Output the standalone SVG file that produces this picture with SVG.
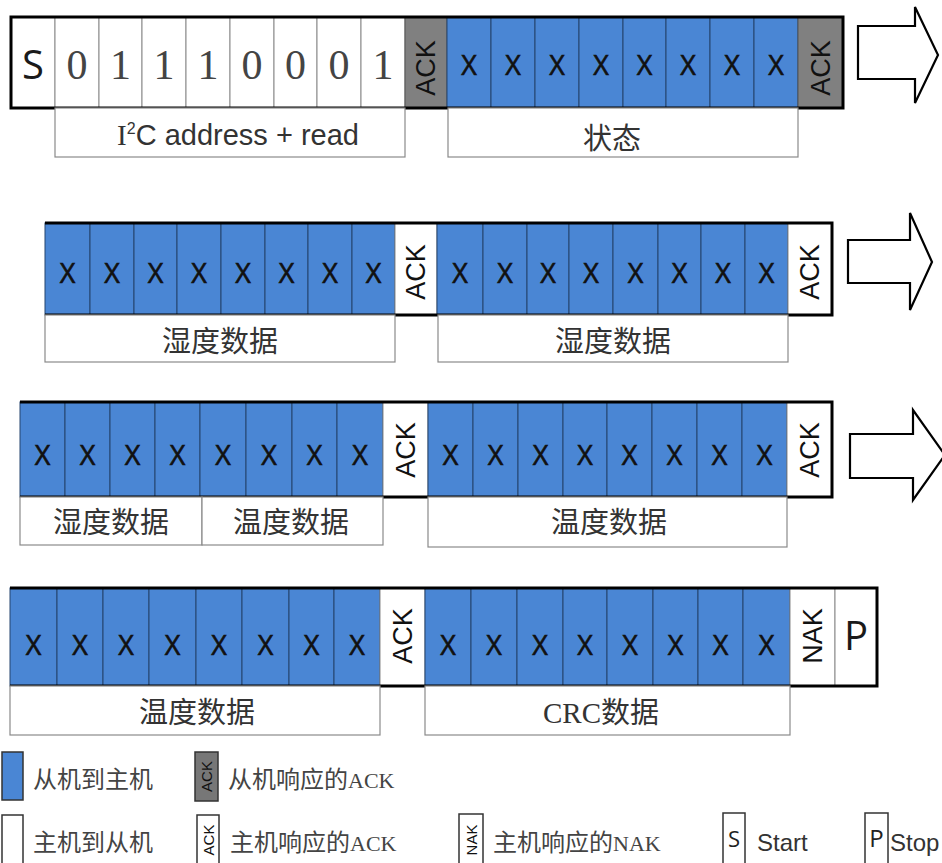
<svg xmlns="http://www.w3.org/2000/svg" width="942" height="863" viewBox="0 0 942 863">
<style>
.bg{fill:#ffffff}
.w{fill:#ffffff;stroke:#8a8a8a;stroke-width:1}
.b{fill:#4a86d4;stroke:#24456f;stroke-width:1}
.g{fill:#808080;stroke:#555;stroke-width:1}
.frame{fill:none;stroke:#000;stroke-width:3}
.lbl{fill:#fff;stroke:#8a8a8a;stroke-width:1.2}
.x{font-family:"Open Sans","DejaVu Sans",sans-serif;font-size:27px;fill:#111;stroke:#111;stroke-width:0.6;text-anchor:middle}
.bit{font-family:"Liberation Serif",serif;font-size:42px;fill:#444;text-anchor:middle}
.big{font-family:"Open Sans","DejaVu Sans",sans-serif;font-size:40px;fill:#1a1a1a;text-anchor:middle}
.ack{font-family:"Liberation Sans",Arial,sans-serif;font-size:27px;fill:#111;text-anchor:middle;dominant-baseline:central}
.cn{font-family:"Noto Sans CJK SC",sans-serif;font-size:29px;fill:#333;text-anchor:middle}
.leg{font-family:"Liberation Serif","Noto Sans CJK SC",serif;font-size:22px;fill:#444}
.legcn{font-family:"Noto Sans CJK SC",sans-serif;font-size:24px}
.sack{font-family:"Liberation Sans",Arial,sans-serif;font-size:15px;fill:#111;text-anchor:middle;dominant-baseline:central}
.lbox{stroke:#333;stroke-width:1.5}
.arrow{fill:#fff;stroke:#000;stroke-width:2.2;stroke-linejoin:miter}
</style>
<rect class="bg" x="0" y="0" width="942" height="863"/>

<g id="row1">
  <rect class="w" x="11" y="17" width="44" height="91"/>
  <text class="big" x="33" y="79">S</text>
  <rect class="w" x="55" y="17" width="44" height="91"/>
  <rect class="w" x="99" y="17" width="43" height="91"/>
  <rect class="w" x="142" y="17" width="44" height="91"/>
  <rect class="w" x="186" y="17" width="44" height="91"/>
  <rect class="w" x="230" y="17" width="44" height="91"/>
  <rect class="w" x="274" y="17" width="43" height="91"/>
  <rect class="w" x="317" y="17" width="44" height="91"/>
  <rect class="w" x="361" y="17" width="44" height="91"/>
  <text class="bit" x="77" y="79">0</text>
  <text class="bit" x="120.5" y="79">1</text>
  <text class="bit" x="164" y="79">1</text>
  <text class="bit" x="208" y="79">1</text>
  <text class="bit" x="252" y="79">0</text>
  <text class="bit" x="295.5" y="79">0</text>
  <text class="bit" x="339" y="79">0</text>
  <text class="bit" x="383" y="79">1</text>
  <rect class="g" x="405" y="17" width="42" height="91"/>
  <text class="ack" transform="translate(426,68) rotate(-90)">ACK</text>
  <rect class="b" x="447" y="17" width="44" height="91"/>
  <rect class="b" x="491" y="17" width="44" height="91"/>
  <rect class="b" x="535" y="17" width="44" height="91"/>
  <rect class="b" x="579" y="17" width="44" height="91"/>
  <rect class="b" x="623" y="17" width="43" height="91"/>
  <rect class="b" x="666" y="17" width="44" height="91"/>
  <rect class="b" x="710" y="17" width="44" height="91"/>
  <rect class="b" x="754" y="17" width="44" height="91"/>
  <text class="x" x="469" y="75">X</text>
  <text class="x" x="513" y="75">X</text>
  <text class="x" x="557" y="75">X</text>
  <text class="x" x="601" y="75">X</text>
  <text class="x" x="644.5" y="75">X</text>
  <text class="x" x="688" y="75">X</text>
  <text class="x" x="732" y="75">X</text>
  <text class="x" x="776" y="75">X</text>
  <rect class="g" x="798" y="17" width="45" height="91"/>
  <text class="ack" transform="translate(820.5,68) rotate(-90)">ACK</text>
  <rect class="frame" x="11" y="17" width="832" height="91"/>
  <rect class="lbl" x="55" y="108" width="350" height="49"/>
  <text class="cn" x="238" y="145" style="font-family:'Liberation Sans',Arial,sans-serif"><tspan style="font-family:'Liberation Serif',serif">I</tspan><tspan font-size="16" dy="-11">2</tspan><tspan dy="11">C address + read</tspan></text>
  <rect class="lbl" x="448" y="108" width="350" height="49"/>
  <text class="cn" x="612" y="149">状态</text>
</g>

<g id="row2">
  <rect class="b" x="45" y="223" width="45" height="92"/>
  <rect class="b" x="90" y="223" width="44" height="92"/>
  <rect class="b" x="134" y="223" width="43" height="92"/>
  <rect class="b" x="177" y="223" width="44" height="92"/>
  <rect class="b" x="221" y="223" width="44" height="92"/>
  <rect class="b" x="265" y="223" width="43" height="92"/>
  <rect class="b" x="308" y="223" width="44" height="92"/>
  <rect class="b" x="352" y="223" width="43" height="92"/>
  <text class="x" x="67.5" y="283">X</text>
  <text class="x" x="112" y="283">X</text>
  <text class="x" x="155.5" y="283">X</text>
  <text class="x" x="199" y="283">X</text>
  <text class="x" x="243" y="283">X</text>
  <text class="x" x="286.5" y="283">X</text>
  <text class="x" x="330" y="283">X</text>
  <text class="x" x="373.5" y="283">X</text>
  <rect class="w" x="395" y="223" width="42" height="92"/>
  <text class="ack" transform="translate(416,272) rotate(-90)">ACK</text>
  <rect class="b" x="437" y="223" width="46" height="92"/>
  <rect class="b" x="483" y="223" width="44" height="92"/>
  <rect class="b" x="527" y="223" width="42" height="92"/>
  <rect class="b" x="569" y="223" width="44" height="92"/>
  <rect class="b" x="613" y="223" width="45" height="92"/>
  <rect class="b" x="658" y="223" width="43" height="92"/>
  <rect class="b" x="701" y="223" width="44" height="92"/>
  <rect class="b" x="745" y="223" width="43" height="92"/>
  <text class="x" x="460" y="283">X</text>
  <text class="x" x="505" y="283">X</text>
  <text class="x" x="548" y="283">X</text>
  <text class="x" x="591" y="283">X</text>
  <text class="x" x="635.5" y="283">X</text>
  <text class="x" x="679.5" y="283">X</text>
  <text class="x" x="723" y="283">X</text>
  <text class="x" x="766.5" y="283">X</text>
  <rect class="w" x="788" y="223" width="44" height="92"/>
  <text class="ack" transform="translate(810,272) rotate(-90)">ACK</text>
  <path d="M45,223 H832 V315 H45" fill="none" stroke="#000" stroke-width="3"/>
  <rect class="lbl" x="45" y="315" width="350" height="47"/>
  <text class="cn" x="220" y="352">湿度数据</text>
  <rect class="lbl" x="438" y="315" width="350" height="47"/>
  <text class="cn" x="613" y="352">湿度数据</text>
</g>

<g id="row3">
  <rect class="b" x="20" y="402" width="45" height="95"/>
  <rect class="b" x="65" y="402" width="45" height="95"/>
  <rect class="b" x="110" y="402" width="45" height="95"/>
  <rect class="b" x="155" y="402" width="45" height="95"/>
  <rect class="b" x="200" y="402" width="46" height="95"/>
  <rect class="b" x="246" y="402" width="46" height="95"/>
  <rect class="b" x="292" y="402" width="45" height="95"/>
  <rect class="b" x="337" y="402" width="46" height="95"/>
  <text class="x" x="42.5" y="465">X</text>
  <text class="x" x="87.5" y="465">X</text>
  <text class="x" x="132.5" y="465">X</text>
  <text class="x" x="177.5" y="465">X</text>
  <text class="x" x="223" y="465">X</text>
  <text class="x" x="269" y="465">X</text>
  <text class="x" x="314.5" y="465">X</text>
  <text class="x" x="360" y="465">X</text>
  <rect class="w" x="383" y="402" width="45" height="95"/>
  <text class="ack" transform="translate(405.5,450) rotate(-90)">ACK</text>
  <rect class="b" x="428" y="402" width="45" height="95"/>
  <rect class="b" x="473" y="402" width="45" height="95"/>
  <rect class="b" x="518" y="402" width="45" height="95"/>
  <rect class="b" x="563" y="402" width="44" height="95"/>
  <rect class="b" x="607" y="402" width="45" height="95"/>
  <rect class="b" x="652" y="402" width="45" height="95"/>
  <rect class="b" x="697" y="402" width="45" height="95"/>
  <rect class="b" x="742" y="402" width="45" height="95"/>
  <text class="x" x="450.5" y="465">X</text>
  <text class="x" x="495.5" y="465">X</text>
  <text class="x" x="540.5" y="465">X</text>
  <text class="x" x="585" y="465">X</text>
  <text class="x" x="629.5" y="465">X</text>
  <text class="x" x="674.5" y="465">X</text>
  <text class="x" x="719.5" y="465">X</text>
  <text class="x" x="764.5" y="465">X</text>
  <rect class="w" x="787" y="402" width="45" height="95"/>
  <text class="ack" transform="translate(809.5,450) rotate(-90)">ACK</text>
  <path d="M20,402 H832 V497 H20" fill="none" stroke="#000" stroke-width="3"/>
  <rect class="lbl" x="20" y="497" width="182" height="48"/>
  <text class="cn" x="111" y="533">湿度数据</text>
  <rect class="lbl" x="202" y="497" width="181" height="48"/>
  <text class="cn" x="291" y="533">温度数据</text>
  <rect class="lbl" x="428" y="497" width="359" height="50"/>
  <text class="cn" x="609" y="533">温度数据</text>
</g>

<g id="row4">
  <rect class="b" x="10" y="588" width="47" height="98"/>
  <rect class="b" x="57" y="588" width="46" height="98"/>
  <rect class="b" x="103" y="588" width="46" height="98"/>
  <rect class="b" x="149" y="588" width="47" height="98"/>
  <rect class="b" x="196" y="588" width="46" height="98"/>
  <rect class="b" x="242" y="588" width="47" height="98"/>
  <rect class="b" x="289" y="588" width="45" height="98"/>
  <rect class="b" x="334" y="588" width="46" height="98"/>
  <text class="x" x="33.5" y="655">X</text>
  <text class="x" x="80" y="655">X</text>
  <text class="x" x="126" y="655">X</text>
  <text class="x" x="172.5" y="655">X</text>
  <text class="x" x="219" y="655">X</text>
  <text class="x" x="265.5" y="655">X</text>
  <text class="x" x="311.5" y="655">X</text>
  <text class="x" x="357" y="655">X</text>
  <rect class="w" x="380" y="588" width="45" height="98"/>
  <text class="ack" transform="translate(402.5,636) rotate(-90)">ACK</text>
  <rect class="b" x="425" y="588" width="46" height="98"/>
  <rect class="b" x="471" y="588" width="46" height="98"/>
  <rect class="b" x="517" y="588" width="46" height="98"/>
  <rect class="b" x="563" y="588" width="44" height="98"/>
  <rect class="b" x="607" y="588" width="46" height="98"/>
  <rect class="b" x="653" y="588" width="45" height="98"/>
  <rect class="b" x="698" y="588" width="45" height="98"/>
  <rect class="b" x="743" y="588" width="47" height="98"/>
  <text class="x" x="448" y="655">X</text>
  <text class="x" x="494" y="655">X</text>
  <text class="x" x="540" y="655">X</text>
  <text class="x" x="585" y="655">X</text>
  <text class="x" x="630" y="655">X</text>
  <text class="x" x="675.5" y="655">X</text>
  <text class="x" x="720.5" y="655">X</text>
  <text class="x" x="766.5" y="655">X</text>
  <rect class="w" x="790" y="588" width="45" height="98"/>
  <text class="ack" transform="translate(812.5,636) rotate(-90)">NAK</text>
  <rect class="w" x="835" y="588" width="42" height="98"/>
  <text class="big" x="856" y="650">P</text>
  <path d="M10,588 H877 V686 H10" fill="none" stroke="#000" stroke-width="3"/>
  <rect class="lbl" x="10" y="686" width="370" height="49"/>
  <text class="cn" x="197" y="723">温度数据</text>
  <rect class="lbl" x="425" y="686" width="365" height="49"/>
  <text class="cn" x="601" y="723"><tspan style="font-family:'Liberation Serif',serif">CRC</tspan>数据</text>
</g>

<g id="connectors">
  <polygon class="arrow" points="858,26 915,26 915,7 938,55 915,103 915,79 858,79"/>
  <polygon class="arrow" points="848,240 910,240 910,213 932,262 910,310 910,283 848,283"/>
  <polygon class="arrow" points="850,434 913,434 913,410 945,455 913,500 913,478 850,478"/>
</g>

<g id="legend">
  <g id="leg-slave">
    <rect class="lbox" x="2" y="752" width="21" height="48" fill="#4a86d4"/>
    <text class="leg" x="33" y="788"><tspan class="legcn">从机到主机</tspan></text>
  </g>
  <g id="leg-slave-ack">
    <rect class="lbox" x="195" y="752" width="23" height="49" fill="#777"/>
    <text class="sack" transform="translate(206.5,776.5) rotate(-90)">ACK</text>
    <text class="leg" x="228" y="788"><tspan class="legcn">从机响应的</tspan>ACK</text>
  </g>
  <g id="leg-master">
    <rect class="lbox" x="2" y="815" width="21" height="52" fill="#fff"/>
    <text class="leg" x="33" y="851"><tspan class="legcn">主机到从机</tspan></text>
  </g>
  <g id="leg-master-ack">
    <rect class="lbox" x="197" y="815" width="22" height="52" fill="#fff"/>
    <text class="sack" transform="translate(208,840) rotate(-90)">ACK</text>
    <text class="leg" x="230" y="851"><tspan class="legcn">主机响应的</tspan>ACK</text>
  </g>
  <g id="leg-master-nak">
    <rect class="lbox" x="459" y="814" width="24" height="52" fill="#fff"/>
    <text class="sack" transform="translate(471,840) rotate(-90)">NAK</text>
    <text class="leg" x="493" y="851"><tspan class="legcn">主机响应的</tspan>NAK</text>
  </g>
  <g id="leg-start">
    <rect class="lbox" x="723" y="813" width="22" height="53" fill="#fff"/>
    <text x="734" y="847" style="font-family:'Open Sans',sans-serif;font-size:22px;fill:#222;text-anchor:middle">S</text>
    <text x="757" y="851" style="font-family:'Liberation Sans',Arial,sans-serif;font-size:24px;fill:#333">Start</text>
  </g>
  <g id="leg-stop">
    <rect class="lbox" x="865" y="813" width="23" height="53" fill="#fff"/>
    <text x="876.5" y="847" style="font-family:'Open Sans',sans-serif;font-size:24px;fill:#222;text-anchor:middle">P</text>
    <text x="890" y="851" style="font-family:'Liberation Sans',Arial,sans-serif;font-size:24px;fill:#333">Stop</text>
  </g>
</g>
</svg>
